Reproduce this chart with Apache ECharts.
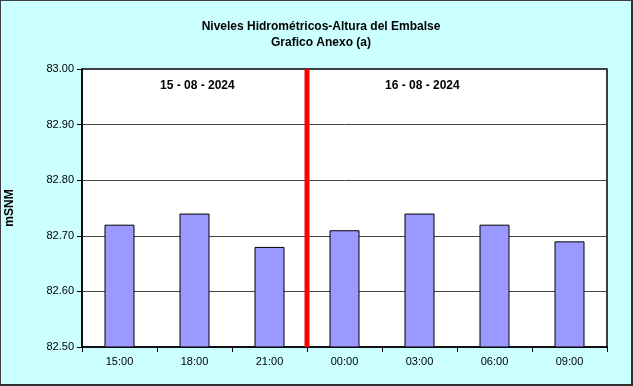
<!DOCTYPE html>
<html>
<head>
<meta charset="utf-8">
<script src="https://cdn.jsdelivr.net/npm/echarts@6/dist/echarts.min.js"></script>
<style>
html,body{margin:0;padding:0;background:#fff;}
#frame{position:absolute;left:0;top:0;width:630px;height:383px;border-left:1px solid #404040;border-top:1px solid #404040;border-right:2px solid #303030;border-bottom:2px solid #303030;background:#CCFFFF;box-sizing:content-box;}
#chart{position:absolute;left:0;top:0;width:633px;height:386px;}
</style>
</head>
<body>
<div id="frame"></div>
<div id="chart"></div>
<script>
const categories = ['15:00','18:00','21:00','00:00','03:00','06:00','09:00'];
const levels = [82.72, 82.74, 82.68, 82.71, 82.74, 82.72, 82.69];
const yTicks = [82.50, 82.60, 82.70, 82.80, 82.90, 83.00];
const dayLabels = ['15 - 08 - 2024', '16 - 08 - 2024'];
const dayChangeIndex = 3;

const chart = echarts.init(document.getElementById('chart'), null, {renderer:'canvas'});
const font = 'Liberation Sans, Arial, sans-serif';
chart.setOption({
  backgroundColor: 'transparent',
  animation: false,
  title: {
    text: 'Niveles Hidrométricos-Altura del Embalse\nGrafico Anexo (a)',
    left: 316, top: 14, textAlign: 'center',
    textStyle: {fontFamily: font, fontSize: 12, fontWeight: 'bold', color: '#000', lineHeight: 16}
  },
  grid: {left: 82, right: 26, top: 69, bottom: 39, outerBoundsMode: 'none', containLabel: false, show: true, backgroundColor: '#fff', borderColor: '#000', borderWidth: 1.5},
  xAxis: [{
    type: 'category', data: categories,
    axisLine: {show: true, lineStyle: {color: '#000', width: 1.5}},
    axisTick: {show: true, inside: false, length: 5, lineStyle: {color: '#000'}},
    axisLabel: {fontFamily: font, fontSize: 11, color: '#000', margin: 9}
  }, {
    type: 'value', min: 0, max: categories.length, show: false
  }],
  yAxis: {
    type: 'value', min: yTicks[0], max: yTicks[yTicks.length-1], interval: 0.1,
    name: 'mSNM', nameLocation: 'middle', nameGap: 66, nameRotate: 90,
    nameTextStyle: {fontFamily: font, fontSize: 12, fontWeight: 'bold', color: '#000'},
    axisLine: {show: true, lineStyle: {color: '#000', width: 1.5}},
    axisTick: {show: true, length: 5, lineStyle: {color: '#000'}},
    axisLabel: {fontFamily: font, fontSize: 11, color: '#000', margin: 8, formatter: v => v.toFixed(2)},
    splitLine: {show: true, lineStyle: {color: '#444', width: 1}}
  },
  series: [{
    type: 'bar', data: levels, barWidth: '40%',
    itemStyle: {color: '#9999FF', borderColor: '#000', borderWidth: 1}
  }, {
    type: 'line', xAxisIndex: 1, data: [[dayChangeIndex, yTicks[0]], [dayChangeIndex, yTicks[yTicks.length-1]]],
    symbol: 'none', lineStyle: {color: '#FF0000', width: 5}, z: 5
  }],
  graphic: [
    {type: 'text', left: 160, top: 80, style: {text: dayLabels[0], font: 'bold 12px ' + font, fill: '#000'}},
    {type: 'text', left: 385, top: 80, style: {text: dayLabels[1], font: 'bold 12px ' + font, fill: '#000'}}
  ]
});
</script>
</body>
</html>
